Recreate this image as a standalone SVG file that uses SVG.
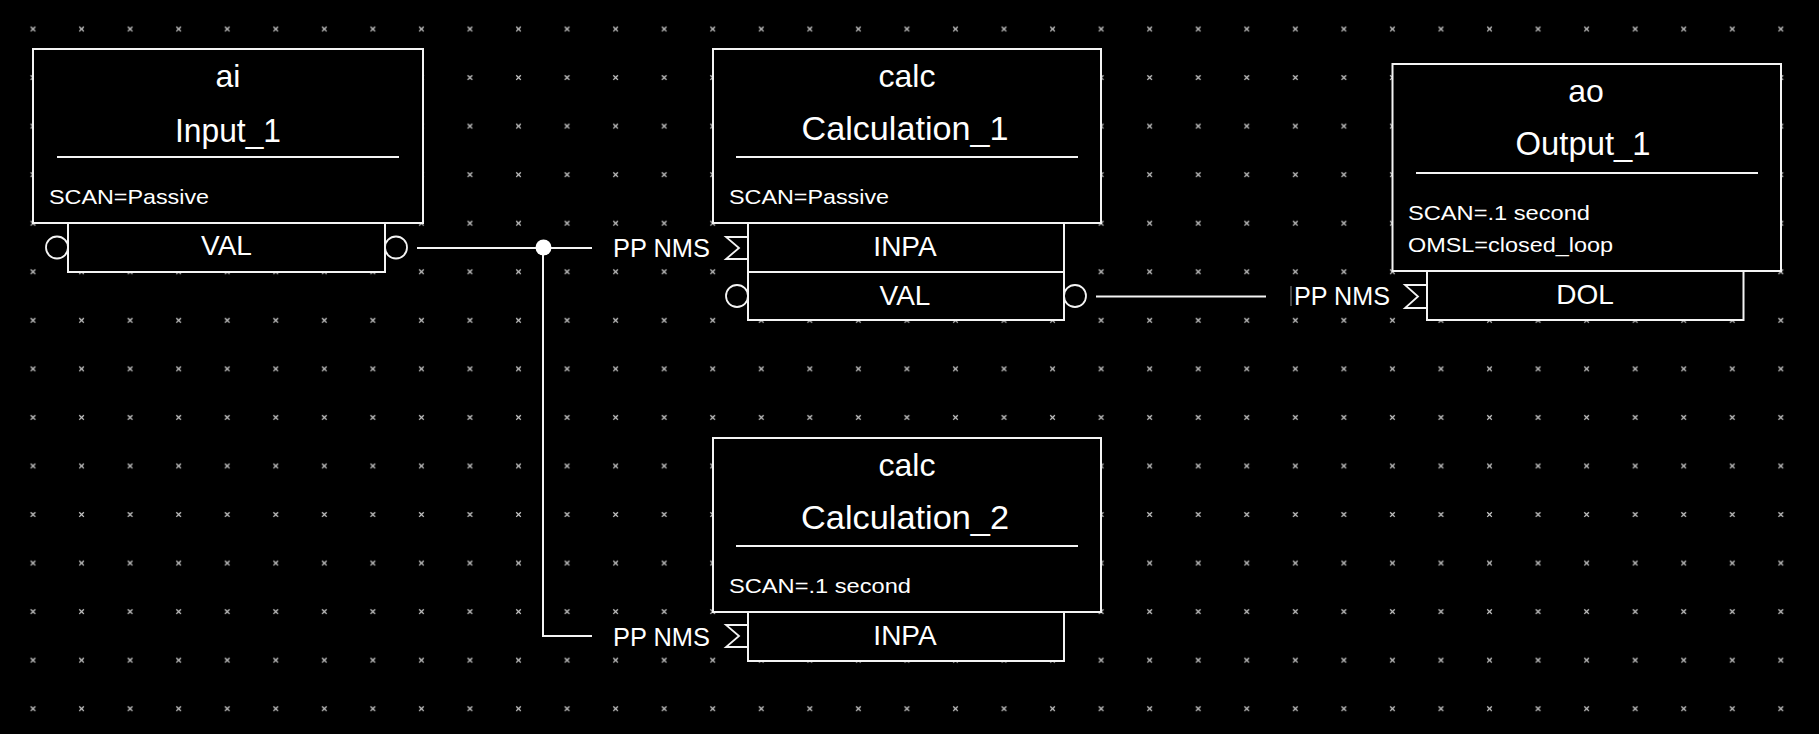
<svg xmlns="http://www.w3.org/2000/svg" width="1819" height="734" viewBox="0 0 1819 734">
<style>
.box{fill:#000;stroke:#f4f4f4;stroke-width:2}
.ln{fill:none;stroke:#f4f4f4;stroke-width:2}
.pin{fill:none;stroke:#f4f4f4;stroke-width:1.8}
.t{fill:#fff;font-family:"Liberation Sans",Arial,sans-serif}
.type{font-size:32px;text-anchor:middle}
.name{font-size:33px;text-anchor:middle}
.attr{font-size:21px}
.field{font-size:28px;text-anchor:middle}
.pp{font-size:25px}
</style>
<defs>
<pattern id="grid" patternUnits="userSpaceOnUse" x="8.725" y="4.725" width="48.55" height="48.55">
<path d="M22 22 L26.6 26.6 M26.6 22 L22 26.6" stroke="#c8c8c8" stroke-width="1.3" fill="none"/>
</pattern>
</defs>
<rect x="0" y="0" width="1819" height="734" fill="#000"/>
<rect x="8" y="4" width="1800" height="728" fill="url(#grid)"/>

<g id="connectors">
<line class="ln" x1="417" y1="248" x2="592" y2="248"/>
<polyline class="ln" points="543,248 543,636 592,636"/>
<circle cx="543.5" cy="247.5" r="8" fill="#fff"/>
<line class="ln" x1="1096" y1="296.5" x2="1266" y2="296.5"/>
</g>

<g id="ai">
<rect class="box" x="33" y="49" width="390" height="174"/>
<text class="t type" x="228" y="87">ai</text>
<text class="t name" x="228" y="142" textLength="106" lengthAdjust="spacingAndGlyphs">Input_1</text>
<line class="ln" x1="57" y1="157" x2="399" y2="157"/>
<text class="t attr" x="49" y="204" textLength="160" lengthAdjust="spacingAndGlyphs">SCAN=Passive</text>
<rect class="box" x="68" y="223" width="317" height="49"/>
<text class="t field" x="226.5" y="255">VAL</text>
<circle class="pin" cx="57" cy="247.5" r="11"/>
<circle class="pin" cx="396" cy="247.5" r="11"/>
</g>

<g id="calc1">
<rect class="box" x="713" y="49" width="388" height="174"/>
<text class="t type" x="907" y="87">calc</text>
<text class="t name" x="905" y="140" textLength="207" lengthAdjust="spacingAndGlyphs">Calculation_1</text>
<line class="ln" x1="736" y1="157" x2="1078" y2="157"/>
<text class="t attr" x="729" y="204" textLength="160" lengthAdjust="spacingAndGlyphs">SCAN=Passive</text>
<rect class="box" x="748" y="223" width="316" height="49"/>
<text class="t field" x="905" y="256">INPA</text>
<rect class="box" x="748" y="272" width="316" height="48"/>
<text class="t field" x="905" y="305">VAL</text>
<polyline class="pin" points="748,237 726,237 739,248 726,259 748,259"/>
<text class="t pp" x="613" y="257" textLength="97" lengthAdjust="spacingAndGlyphs">PP NMS</text>
<circle class="pin" cx="737" cy="296" r="11"/>
<circle class="pin" cx="1075" cy="296" r="11"/>
</g>

<g id="calc2">
<rect class="box" x="713" y="438" width="388" height="174"/>
<text class="t type" x="907" y="476">calc</text>
<text class="t name" x="905" y="529" textLength="208" lengthAdjust="spacingAndGlyphs">Calculation_2</text>
<line class="ln" x1="736" y1="546" x2="1078" y2="546"/>
<text class="t attr" x="729" y="593" textLength="182" lengthAdjust="spacingAndGlyphs">SCAN=.1 second</text>
<rect class="box" x="748" y="612" width="316" height="49"/>
<text class="t field" x="905" y="645">INPA</text>
<polyline class="pin" points="748,625 726,625 739,636 726,647 748,647"/>
<text class="t pp" x="613" y="646" textLength="97" lengthAdjust="spacingAndGlyphs">PP NMS</text>
</g>

<g id="ao">
<rect class="box" x="1392.5" y="64" width="388.5" height="207"/>
<text class="t type" x="1586" y="102">ao</text>
<text class="t name" x="1583" y="155" textLength="135" lengthAdjust="spacingAndGlyphs">Output_1</text>
<line class="ln" x1="1416" y1="173" x2="1758" y2="173"/>
<text class="t attr" x="1408" y="220" textLength="182" lengthAdjust="spacingAndGlyphs">SCAN=.1 second</text>
<text class="t attr" x="1408" y="252" textLength="205" lengthAdjust="spacingAndGlyphs">OMSL=closed_loop</text>
<rect class="box" x="1427" y="271" width="316.5" height="49"/>
<text class="t field" x="1585" y="304">DOL</text>
<polyline class="pin" points="1427,285 1405,285 1418,296.5 1405,308 1427,308"/>
<line x1="1291" y1="286" x2="1291" y2="306" stroke="#888" stroke-width="1"/>
<text class="t pp" x="1294" y="305" textLength="96" lengthAdjust="spacingAndGlyphs">PP NMS</text>
</g>
</svg>
